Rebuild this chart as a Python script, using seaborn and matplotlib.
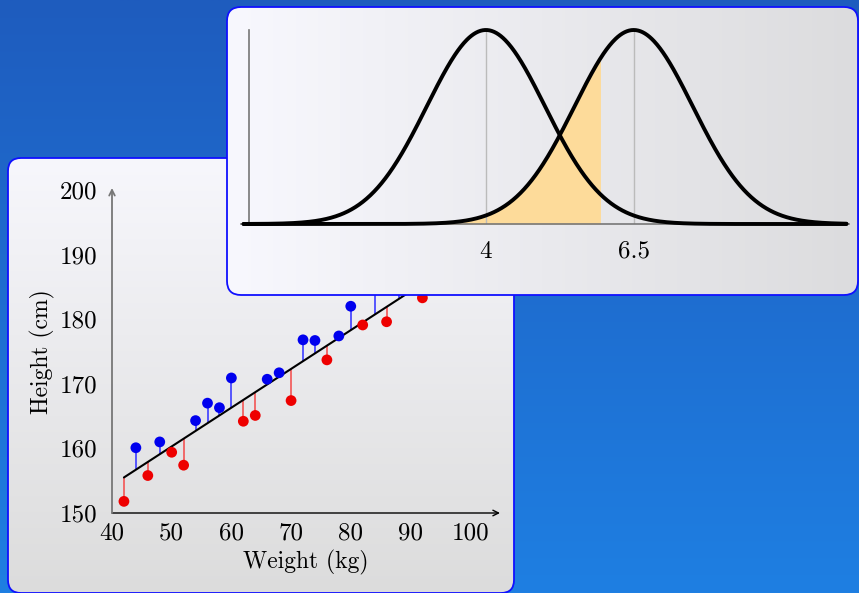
import numpy as np
import pandas as pd
import matplotlib
matplotlib.use("Agg")
import matplotlib.pyplot as plt
import seaborn as sns
from matplotlib.patches import FancyBboxPatch

# ---------------- data ----------------
weight = [42, 44, 46, 48, 50, 52, 54, 56, 58, 60, 62, 64, 66, 68, 70,
          72, 74, 76, 78, 80, 82, 84, 86, 88, 90, 92]
height = [151.8, 160.1, 155.8, 161.0, 159.4, 157.4, 164.3, 167.0, 166.3, 170.9,
          164.2, 165.1, 170.7, 171.7, 167.4, 176.8, 176.7, 173.7, 177.4, 182.0,
          179.1, 185.0, 179.6, 185.5, 186.5, 183.3]
fit_intercept = 130.3
fit_slope = 0.60
weight_ticks = [40, 50, 60, 70, 80, 90, 100]
height_ticks = [150, 160, 170, 180, 190, 200]
x_label = "Weight (kg)"
y_label = "Height (cm)"

bell_means = [4.0, 6.5]
bell_sigma = 1.0
bell_range = [-0.1, 10.1]
shade_upto = 5.95
bell_tick_labels = ["4", "6.5"]

# ---------------- setup ----------------
sns.set_style("white")
plt.rcParams["font.family"] = ["cmr10", "DejaVu Serif"]
plt.rcParams["axes.formatter.use_mathtext"] = True
plt.rcParams["text.color"] = "black"
plt.rcParams["axes.labelcolor"] = "black"

W, H = 859, 593
fig = plt.figure(figsize=(W / 100, H / 100), dpi=100)


def px_rect(x0, y0, x1, y1):
    return [x0 / W, 1 - y1 / H, (x1 - x0) / W, (y1 - y0) / H]


def canvas(z):
    a = fig.add_axes([0, 0, 1, 1], zorder=z)
    a.set_xlim(0, W)
    a.set_ylim(H, 0)
    a.axis("off")
    a.patch.set_alpha(0)
    return a


def gradient_panel(a, x0, y0, x1, y1, r, c0, c1, horizontal):
    n = 256
    t = np.linspace(0, 1, n)
    c0 = np.array(c0) / 255.0
    c1 = np.array(c1) / 255.0
    cols = c0[None, :] * (1 - t[:, None]) + c1[None, :] * t[:, None]
    img = cols[None, :, :] if horizontal else cols[:, None, :]
    patch = FancyBboxPatch((x0, y0), x1 - x0, y1 - y0,
                           boxstyle=f"round,pad=0,rounding_size={r}",
                           facecolor="none", edgecolor="#1010ff", lw=1.3, zorder=3)
    a.add_patch(patch)
    im = a.imshow(img, extent=(x0, x1, y1, y0), aspect="auto", zorder=2,
                  interpolation="bilinear")
    im.set_clip_path(patch)
    a.set_xlim(0, W)
    a.set_ylim(H, 0)


# background + panel 1
bg = canvas(0)
t = np.linspace(0, 1, 256)
top = np.array([30, 92, 190]) / 255.0
bot = np.array([31, 127, 226]) / 255.0
bgimg = (top[None, :] * (1 - t[:, None]) + bot[None, :] * t[:, None])[:, None, :]
bg.imshow(bgimg, extent=(0, W, H, 0), aspect="auto", zorder=0)
gradient_panel(bg, 8, 158, 514, 593, 13, (247, 247, 252), (220, 220, 220), False)

# ---------------- scatter / regression ----------------
ax1 = fig.add_axes(px_rect(112, 188, 500, 513), zorder=1)
ax1.patch.set_alpha(0)
ax1.set_xlim(40, 105)
ax1.set_ylim(150, 200.3)

w = np.array(weight, dtype=float)
h = np.array(height, dtype=float)
pred = fit_intercept + fit_slope * w
side = np.where(h >= pred, "above", "below")
df = pd.DataFrame({"weight": w, "height": h, "pred": pred, "side": side})

stem_colors = ["#4a4aff" if s == "above" else "#f26060" for s in side]
ax1.vlines(df["weight"], df["pred"], df["height"], colors=stem_colors, lw=1.3, zorder=2)
fit_df = pd.DataFrame({"weight": [w.min(), w.max()],
                       "height": [fit_intercept + fit_slope * w.min(),
                                  fit_intercept + fit_slope * w.max()]})
sns.lineplot(data=fit_df, x="weight", y="height", color="black", lw=1.5, ax=ax1, zorder=3)
sns.scatterplot(data=df, x="weight", y="height", hue="side",
                palette={"above": "#0000ee", "below": "#ee0000"},
                s=60, linewidth=0, legend=False, ax=ax1, zorder=4, clip_on=False)

for sp in ax1.spines.values():
    sp.set_visible(False)
ax1.annotate("", xy=(1, 0), xytext=(0, 0), xycoords="axes fraction",
             arrowprops=dict(arrowstyle="->", color="black", lw=1.0,
                             shrinkA=0, shrinkB=0, mutation_scale=10))
ax1.annotate("", xy=(0, 1), xytext=(0, 0), xycoords="axes fraction",
             arrowprops=dict(arrowstyle="->", color="#777777", lw=1.3,
                             shrinkA=0, shrinkB=0, mutation_scale=10))
ax1.set_xticks(weight_ticks)
ax1.set_xticklabels([str(v) for v in weight_ticks])
ax1.set_yticks(height_ticks)
ax1.set_yticklabels([str(v) for v in height_ticks])
ax1.tick_params(axis="both", direction="inout", length=7, width=1, color="#888888",
                labelsize=18, labelcolor="black")
ax1.tick_params(axis="x", pad=3)
ax1.tick_params(axis="y", pad=7)
ax1.set_xlabel(x_label, fontsize=17, color="black")
ax1.set_ylabel(y_label, fontsize=17, color="black")
ax1.xaxis.set_label_coords((306 - 112) / 388, (513 - 562) / 325)
ax1.xaxis.label.set_va("center")
ax1.yaxis.set_label_coords((42 - 112) / 388, (513 - 352) / 325)
ax1.yaxis.label.set_va("center")

# ---------------- panel 2 ----------------
ov = canvas(2)
gradient_panel(ov, 227, 7, 858, 295, 14, (248, 248, 254), (220, 220, 222), True)

ax2 = fig.add_axes(px_rect(240.6, 30, 849.4, 224), zorder=3)
ax2.patch.set_alpha(0)
peak = 1 / (bell_sigma * np.sqrt(2 * np.pi))
ax2.set_xlim(-0.15, 10.15)
ax2.set_ylim(0, peak)

xs = np.linspace(bell_range[0], bell_range[1], 800)
frames = []
for m in bell_means:
    dens = np.exp(-0.5 * ((xs - m) / bell_sigma) ** 2) * peak
    frames.append(pd.DataFrame({"x": xs, "density": dens, "mean": str(m)}))
bell = pd.concat(frames, ignore_index=True)

right = bell[(bell["mean"] == str(bell_means[1])) & (bell["x"] <= shade_upto)]
ax2.fill_between(right["x"], 0, right["density"], color="#fddb9a", lw=0, zorder=1)
ax2.vlines(bell_means, 0, peak, colors="#bbbbbb", lw=1.0, zorder=2)
sns.lineplot(data=bell, x="x", y="density", hue="mean",
             palette=["black", "black"], lw=2.8, legend=False, ax=ax2,
             estimator=None, sort=False, zorder=3)
for ln in ax2.lines:
    ln.set_clip_on(False)

for key in ["top", "right"]:
    ax2.spines[key].set_visible(False)
ax2.spines["left"].set_position(("data", 0))
ax2.spines["left"].set_color("#777777")
ax2.spines["bottom"].set_color("#777777")
ax2.spines["left"].set_linewidth(1.2)
ax2.spines["bottom"].set_linewidth(1.2)
ax2.set_yticks([])
ax2.set_xticks(bell_means)
ax2.set_xticklabels(bell_tick_labels)
ax2.tick_params(axis="x", length=0, pad=12, labelsize=18, labelcolor="black")
ax2.set_xlabel("")
ax2.set_ylabel("")

fig.savefig("out.png", dpi=100)
